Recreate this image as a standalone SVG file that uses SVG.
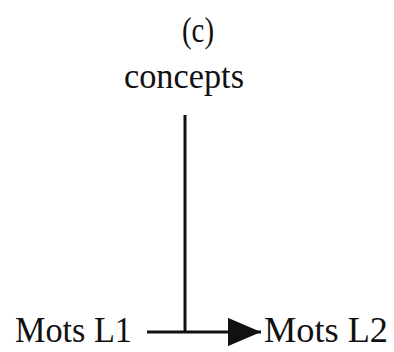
<svg xmlns="http://www.w3.org/2000/svg" width="394" height="352" viewBox="0 0 394 352">
<style>
.t{font-family:"Liberation Serif","Times New Roman",serif;font-size:35px;fill:#111}
.l{stroke:#111;stroke-width:3;fill:none}
</style>
<defs>
<marker id="ah" markerWidth="11" markerHeight="9.4" refX="11" refY="4.7" orient="auto" markerUnits="strokeWidth">
<path d="M0,0 L11,4.7 L0,9.4 Z" fill="#111"/>
</marker>
</defs>
<rect width="394" height="352" fill="#fff"/>
<g id="label-c"><text class="t" x="182" y="42" textLength="32" lengthAdjust="spacingAndGlyphs">(c)</text></g>
<g id="concepts"><text class="t" x="124" y="88" textLength="120" lengthAdjust="spacingAndGlyphs">concepts</text></g>
<g id="mots-l1"><text class="t" x="15" y="342" textLength="117" lengthAdjust="spacingAndGlyphs">Mots L1</text></g>
<g id="mots-l2"><text class="t" x="264" y="342" textLength="124" lengthAdjust="spacingAndGlyphs">Mots L2</text></g>
<g id="connectors">
<line class="l" x1="185" y1="115" x2="185" y2="332"/>
<line class="l" x1="147" y1="332" x2="261" y2="332" marker-end="url(#ah)"/>
</g>
</svg>
